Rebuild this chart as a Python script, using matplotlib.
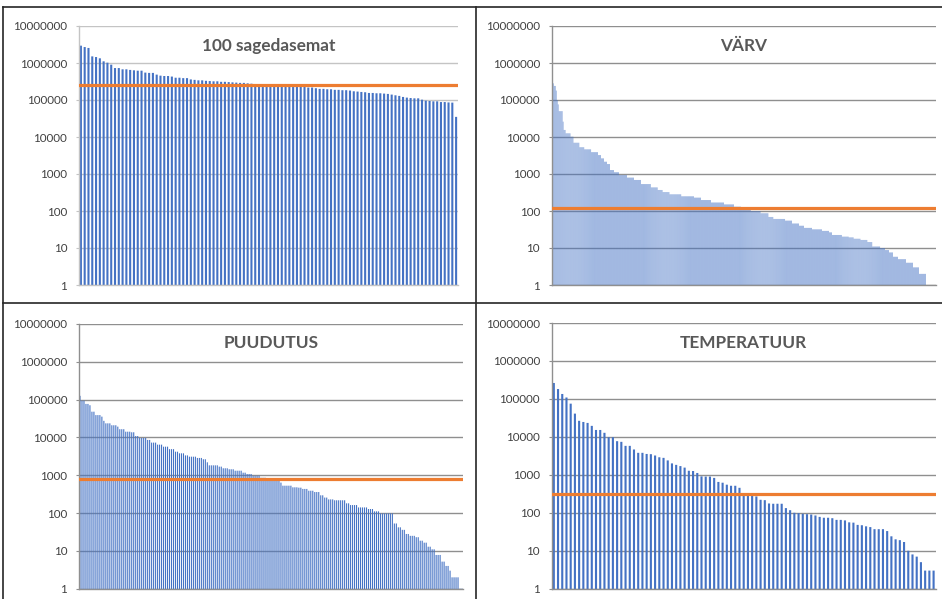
import numpy as np
import matplotlib
matplotlib.use('Agg')
import matplotlib.pyplot as plt
from matplotlib.lines import Line2D

# ---------------- data ----------------
titles = ["100 sagedasemat", "VÄRV", "PUUDUTUS", "TEMPERATUUR"]

top100 = [2940000, 2700000, 2550000, 1510000, 1450000, 1340000, 1110000, 1020000, 900000, 730000,
          730000, 675000, 675000, 650000, 635000, 620000, 620000, 550000, 540000, 540000,
          485000, 455000, 445000, 445000, 430000, 400000, 400000, 390000, 390000, 360000,
          350000, 340000, 340000, 330000, 325000, 320000, 320000, 310000, 310000, 305000,
          300000, 295000, 290000, 290000, 282000, 276000, 270000, 270000, 265000, 255000,
          246000, 241000, 241000, 236000, 236000, 236000, 231000, 231000, 231000, 226000,
          217000, 217000, 208000, 200000, 200000, 195000, 195000, 188000, 188000, 184000,
          184000, 180000, 172000, 169000, 165000, 162000, 155000, 155000, 152000, 152000,
          149000, 146000, 140000, 134000, 129000, 121000, 116000, 113000, 111000, 111000,
          102000, 96000, 94000, 92000, 92000, 88000, 88000, 86000, 85000, 35000]

varv_levels = [282000, 240000, 180000, 100000, 76000, 50000, 26000, 15500, 12600, 10200,
               7000, 5300, 4650, 3900, 3250, 2650, 2150, 1860, 1280, 1120,
               935, 800, 690, 535, 435, 370, 325, 283, 250, 230,
               198, 170, 151, 131, 116, 100, 87, 69, 61, 55,
               46, 40, 35, 32, 29, 26.5, 22.5, 20.3, 19.4, 17.8,
               16.5, 14.5, 11, 10, 8.8, 7.6, 5.8, 5, 4, 3, 2, 1]
varv_counts = [2, 2, 1, 1, 1, 4, 1, 2, 5, 3,
               6, 5, 7, 7, 3, 3, 3, 3, 4, 5,
               8, 7, 7, 10, 7, 5, 7, 12, 13, 7,
               10, 13, 10, 7, 10, 10, 8, 5, 12, 7,
               7, 5, 8, 10, 7, 3, 10, 7, 5, 7,
               7, 5, 8, 5, 4, 4, 5, 8, 7, 6, 7, 10]

puudutus_levels = [126000, 94000, 77000, 71000, 48000, 39000, 35500, 27500, 23600, 21000,
                   19300, 16500, 14200, 13700, 10900, 9700, 8600, 7300, 6450, 5700,
                   4900, 4200, 3800, 3350, 3100, 2870, 2650, 2200, 1830, 1690,
                   1530, 1440, 1320, 1170, 1080, 975, 860, 750, 640, 530,
                   480, 470, 435, 390, 360, 295, 257, 230, 218, 181,
                   163, 141, 128, 111, 98, 53, 42, 36, 28, 25,
                   23, 18.6, 16.5, 12.9, 11, 7.8, 5.2, 4, 3, 2, 1]
puudutus_counts = [1, 2, 2, 1, 2, 3, 1, 1, 3, 3,
                   1, 3, 3, 2, 2, 4, 2, 3, 3, 3,
                   3, 2, 3, 2, 4, 3, 2, 1, 5, 2,
                   3, 3, 4, 2, 3, 4, 3, 7, 1, 5,
                   3, 2, 3, 3, 3, 2, 2, 3, 6, 2,
                   4, 5, 3, 3, 7, 2, 2, 2, 2, 3,
                   2, 2, 2, 2, 2, 3, 2, 2, 1, 4, 2]

temperatuur = [263000, 182000, 135000, 109000, 75000, 41000, 26500, 24700, 23300, 19500,
               15200, 15200, 12800, 9800, 9800, 7700, 7400, 5800, 5800, 4650,
               3800, 3800, 3550, 3500, 3230, 2900, 2800, 2400, 2000, 1830,
               1700, 1550, 1280, 1260, 1120, 910, 900, 900, 830, 650,
               620, 550, 515, 515, 455, 316, 303, 280, 270, 220,
               215, 176, 173, 173, 173, 133, 117, 100, 98, 94,
               92, 90, 85, 78, 74, 74, 72, 65, 65, 63,
               56, 55, 48, 47, 44, 42, 37, 37, 37, 33,
               24, 20, 19, 17, 10, 8, 7, 5, 3, 3, 3]

thresholds = [257000, 118, 780, 320]

tick_values = [1, 10, 100, 1000, 10000, 100000, 1000000, 10000000]
tick_labels = ["1", "10", "100", "1000", "10000", "100000", "1000000", "10000000"]

# ---------------- figure ----------------
W, H = 942, 599
fig = plt.figure(figsize=(W / 100, H / 100), dpi=100)
fig.patch.set_facecolor('white')

BLUE = '#4472C4'
ORANGE = '#ED7D31'

def axes_px(left, top, right, bottom):
    return fig.add_axes([left / W, 1 - bottom / H, (right - left) / W, (bottom - top) / H])

series = [
    np.array(top100, dtype=float),
    np.repeat(varv_levels, varv_counts).astype(float),
    np.repeat(puudutus_levels, puudutus_counts).astype(float),
    np.array(temperatuur, dtype=float),
]
boxes = [(79, 26, 458, 285), (551.7, 26, 935.7, 285),
         (79, 324, 463, 588.7), (551.7, 323, 935.7, 588.7)]
widths = [0.55, 0.5, 0.55, 0.5]
grid_colors = ['#c4c4c4', '#8f8f8f', '#8f8f8f', '#8f8f8f']
title_baselines = [50.7, 51, 348.3, 347.7]

for i in range(4):
    vals = series[i]
    n = len(vals)
    l, t, r, b = boxes[i]
    ax = axes_px(l, t, r, b)
    ax.set_yscale('log')
    x = np.arange(n)
    ax.bar(x, vals, width=widths[i], color=BLUE, linewidth=0, zorder=2, snap=False)
    ax.axhline(thresholds[i], color=ORANGE, lw=2.3, zorder=3)
    ax.set_xlim(-0.5, n - 0.5)
    ax.set_ylim(1, 1e7)
    ax.set_yticks(tick_values)
    ax.set_yticklabels(tick_labels, fontsize=8.4, family='Lato', color='#404040')
    ax.yaxis.set_minor_locator(matplotlib.ticker.NullLocator())
    ax.set_xticks([])
    gc = grid_colors[i]
    ax.yaxis.grid(True, color=gc, lw=1.0, zorder=1)
    ax.set_axisbelow(True)
    ax.tick_params(axis='y', length=2.5, width=0.8, color=gc, pad=6)
    for s in ['top', 'right']:
        ax.spines[s].set_visible(False)
    ax.spines['left'].set_color(gc)
    ax.spines['left'].set_linewidth(1.0)
    ax.spines['bottom'].set_color(gc)
    ax.spines['bottom'].set_linewidth(1.0)
    ax.patch.set_alpha(0)
    cx = (l + r) / 2
    fig.text(cx / W, 1 - title_baselines[i] / H, titles[i], ha='center', va='baseline',
             fontsize=12.4, family='Lato', fontweight='bold', color='#595959')

# panel frame lines
def hline(y, x0, x1):
    fig.add_artist(Line2D([x0 / W, x1 / W], [1 - y / H, 1 - y / H], color='#262626', lw=1.2))

def vline(x, y0, y1):
    fig.add_artist(Line2D([x / W, x / W], [1 - y0 / H, 1 - y1 / H], color='#262626', lw=1.2))

hline(7, 3, 942)
hline(303, 3, 942)
vline(3, 7, 599)
vline(476, 7, 599)

fig.savefig('out.png', dpi=100, facecolor='white')
